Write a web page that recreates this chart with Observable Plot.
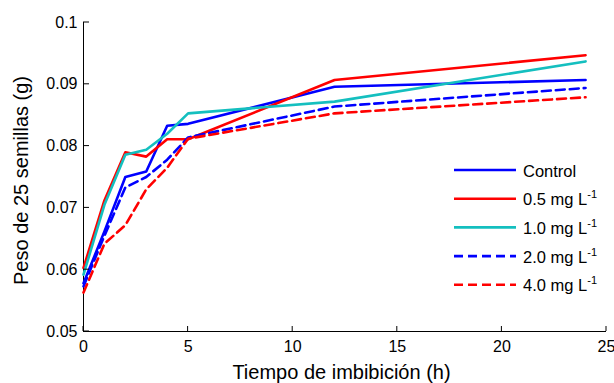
<!DOCTYPE html>
<html>
<head>
<meta charset="utf-8">
<script src="https://cdn.jsdelivr.net/npm/d3@7"></script>
<script src="https://cdn.jsdelivr.net/npm/@observablehq/plot@0.6"></script>
<style>
  html, body { margin: 0; padding: 0; background: #fff; }
  svg { display: block; font-family: "Liberation Sans", Arial, sans-serif; }
</style>
</head>
<body>
<div id="chart"></div>
<script>
const times   = [0, 1, 2, 3, 4, 5, 12, 24];
const control = [0.0578, 0.0662, 0.0750, 0.0759, 0.0833, 0.0836, 0.0896, 0.0907];
const mg05    = [0.0603, 0.0712, 0.0790, 0.0783, 0.0811, 0.0811, 0.0907, 0.0947];
const mg10    = [0.0592, 0.0705, 0.0786, 0.0794, 0.0820, 0.0853, 0.0872, 0.0937];
const mg20    = [0.0573, 0.0655, 0.0733, 0.0750, 0.0778, 0.0814, 0.0864, 0.0894];
const mg40    = [0.0563, 0.0642, 0.0672, 0.0730, 0.0765, 0.0812, 0.0853, 0.0879];

const seriesNames = ["Control", "0.5 mg L", "1.0 mg L", "2.0 mg L", "4.0 mg L"];
const seriesSup   = ["", "-1", "-1", "-1", "-1"];
const seriesValues = [control, mg05, mg10, mg20, mg40];
const seriesColors = ["#0000ff", "#ff0000", "#14bfbf", "#0000ff", "#ff0000"];
const seriesDash   = [null, null, null, "9,5", "9,5"];

const xTicks = [0, 5, 10, 15, 20, 25];
const xTickLabels = ["0", "5", "10", "15", "20", "25"];
const yTicks = [0.05, 0.06, 0.07, 0.08, 0.09, 0.1];
const yTickLabels = ["0.05", "0.06", "0.07", "0.08", "0.09", "0.1"];

const xTitle = "Tiempo de imbibición (h)";
const yTitle = "Peso de 25 semillas (g)";

const W = 614, H = 383;
const mL = 83, mR = 8, mT = 22, mB = 52;

const marks = [
  Plot.ruleX([0], {stroke: "#000", strokeWidth: 1}),
  Plot.ruleY([0.05], {stroke: "#000", strokeWidth: 1}),
  Plot.axisX({ticks: xTicks, tickSize: 0, tickPadding: 9, fontSize: 16, tickFormat: (d) => xTickLabels[xTicks.indexOf(d)], label: null}),
  Plot.axisY({ticks: yTicks, tickSize: 0, tickPadding: 6, fontSize: 16, tickFormat: (d) => yTickLabels[yTicks.indexOf(d)], label: null})
];
seriesValues.forEach((vals, i) => {
  const rows = times.map((t, j) => ({t, v: vals[j]}));
  marks.push(Plot.line(rows, {
    x: "t", y: "v", stroke: seriesColors[i], strokeWidth: 2.6,
    strokeDasharray: seriesDash[i] || undefined, curve: "linear"
  }));
});

const plot = Plot.plot({
  width: W, height: H,
  marginLeft: mL, marginRight: mR, marginTop: mT, marginBottom: mB,
  style: {fontFamily: '"Liberation Sans", Arial, sans-serif', color: "#000", background: "#fff"},
  x: {domain: [0, 25], axis: null},
  y: {domain: [0.05, 0.1], axis: null},
  marks
});
document.getElementById("chart").appendChild(plot);

const sx = plot.scale("x"), sy = plot.scale("y");
const svg = d3.select(plot);
const g = svg.append("g").attr("text-anchor", "start");
const x0 = sx.apply(0), y0 = sy.apply(0.05);
// inward ticks
xTicks.forEach(t => {
  g.append("line").attr("x1", sx.apply(t)).attr("x2", sx.apply(t))
    .attr("y1", y0).attr("y2", y0 - 5).attr("stroke", "#000");
});
yTicks.forEach(t => {
  g.append("line").attr("x1", x0).attr("x2", x0 + 6)
    .attr("y1", sy.apply(t)).attr("y2", sy.apply(t)).attr("stroke", "#000");
});
// titles
g.append("text").attr("x", (sx.apply(0) + sx.apply(25)) / 2 - 3).attr("y", 379)
  .attr("text-anchor", "middle").attr("font-size", 20).attr("fill", "#000").text(xTitle);
g.append("text").attr("transform", `translate(28,${(sy.apply(0.05) + sy.apply(0.1)) / 2 + 4}) rotate(-90)`)
  .attr("text-anchor", "middle").attr("font-size", 20).attr("fill", "#000").text(yTitle);

// legend
const legX1 = 454, legX2 = 516, legTextX = 523, legY0 = 170, legDy = 28.7;
seriesNames.forEach((name, i) => {
  const y = legY0 + i * legDy;
  g.append("line").attr("x1", legX1).attr("x2", legX2).attr("y1", y).attr("y2", y)
    .attr("stroke", seriesColors[i]).attr("stroke-width", 2.6)
    .attr("stroke-dasharray", seriesDash[i]);
  const t = g.append("text").attr("x", legTextX).attr("y", y + 6.5)
    .attr("text-anchor", "start").attr("font-size", 16.5).attr("fill", "#000");
  t.append("tspan").text(name);
  if (seriesSup[i]) t.append("tspan").attr("font-size", 11).attr("dy", -7).text(seriesSup[i]);
});
</script>
</body>
</html>
